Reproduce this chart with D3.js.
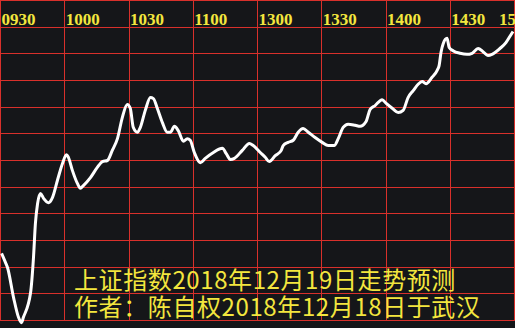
<!DOCTYPE html>
<html>
<head>
<meta charset="utf-8">
<script src="https://cdn.jsdelivr.net/npm/d3@7"></script>
<style>
  html, body { margin: 0; padding: 0; background: #151619; }
  svg { display: block; }
</style>
</head>
<body>
<script>
"use strict";

// Size of the picture
let w = 515;
let h = 328;

// time axis labels, minutes from 09:30 (lunch break removed)
let tickMinutes = [0, 30, 60, 90, 120, 150, 180, 210, 240];
let tickLabels = ["0930", "1000", "1030", "1100", "1300", "1330", "1400", "1430", "1500"];

// forecast curve
let minutes = [0.5, 2.3, 3.3, 6.1, 8.4, 9.8, 10.7, 14.0, 15.4, 16.3, 17.3, 18.7, 20.1, 22.4, 24.3,
    26.6, 28.9, 30.8, 31.7, 33.6, 35.9, 37.3, 38.7, 42.0, 45.2, 47.6, 49.9, 52.2, 54.6, 56.9,
    59.2, 60.6, 62.0, 63.9, 65.3, 67.6, 70.0, 71.4, 73.2, 75.6, 77.9, 79.3, 81.2, 83.0, 85.4,
    87.2, 88.6, 90.5, 93.3, 95.6, 99.4, 103.6, 105.4, 107.3, 109.2, 112.9, 116.2, 118.0, 121.3,
    123.6, 125.5, 128.3, 131.1, 132.0, 134.3, 136.7, 139.0, 141.3, 143.7, 146.9, 150.2, 153.0,
    155.8, 157.7, 160.0, 162.3, 165.6, 167.9, 170.7, 172.6, 174.9, 178.2, 180.1, 182.9, 185.7,
    188.0, 190.3, 192.7, 195.0, 196.9, 198.7, 201.5, 203.9, 204.8, 205.7, 206.7, 208.5, 209.5,
    211.3, 214.6, 217.8, 220.2, 223.0, 225.3, 227.6, 229.5, 233.2, 236.0, 237.9, 239.3];
let values = [2552.6, 2550.9, 2549.9, 2544.3, 2540.6, 2539.6, 2540.6, 2545.1, 2551.8, 2558.2,
    2561.9, 2563.8, 2562.9, 2562.1, 2563.1, 2566.3, 2569.4, 2571.1, 2570.6, 2568.1, 2565.7,
    2564.8, 2565.3, 2566.8, 2568.7, 2569.8, 2570.0, 2571.9, 2574.1, 2578.1, 2580.5, 2579.8,
    2576.2, 2575.3, 2576.2, 2579.4, 2581.8, 2581.6, 2579.8, 2577.1, 2575.3, 2575.3, 2576.4,
    2575.6, 2573.6, 2574.1, 2573.8, 2571.5, 2569.6, 2570.4, 2571.5, 2572.3, 2571.3, 2570.2,
    2570.4, 2571.9, 2573.2, 2572.8, 2571.5, 2570.6, 2569.8, 2570.9, 2571.9, 2572.8, 2573.4,
    2573.8, 2575.3, 2576.0, 2575.3, 2574.3, 2573.4, 2572.8, 2572.8, 2574.1, 2576.2, 2576.8,
    2576.6, 2576.4, 2577.3, 2579.6, 2580.3, 2581.4, 2580.7, 2579.8, 2579.0, 2579.4, 2581.8,
    2583.1, 2584.3, 2584.8, 2584.4, 2585.6, 2586.9, 2587.8, 2590.3, 2591.9, 2592.9, 2591.2,
    2590.6, 2590.1, 2589.9, 2590.1, 2591.0, 2590.4, 2589.7, 2589.9, 2591.0, 2592.1, 2593.3,
    2594.2];

// price grid, one line every 5 points
let gridValues = d3.range(2540, 2601, 5);

let titleLines = ["上证指数2018年12月19日走势预测", "作者：陈自权2018年12月18日于武汉"];

let x = d3.scaleLinear().domain([0, 240]).range([0.5, 514.5]);
let y = d3.scaleLinear().domain([2540, 2600]).range([320.5, 0.5]);

let svg = d3.select("body")
    .append("svg")
    .attr("width", w)
    .attr("height", h);

svg.append("rect")
    .attr("width", w)
    .attr("height", h)
    .attr("fill", "#151619");

let grid = svg.append("g")
    .attr("stroke", "#d8302b")
    .attr("stroke-width", 1);

grid.selectAll("line.h")
    .data(gridValues)
    .enter().append("line")
    .attr("class", "h")
    .attr("x1", 0)
    .attr("x2", w)
    .attr("y1", d => Math.round(y(d) - 0.5) + 0.5)
    .attr("y2", d => Math.round(y(d) - 0.5) + 0.5);

grid.selectAll("line.v")
    .data(tickMinutes)
    .enter().append("line")
    .attr("class", "v")
    .attr("x1", d => Math.round(x(d) - 0.5) + 0.5)
    .attr("x2", d => Math.round(x(d) - 0.5) + 0.5)
    .attr("y1", 0)
    .attr("y2", y(2540));

// time labels along the top; the last one is pulled in and runs off the edge
svg.append("g")
    .selectAll("text")
    .data(tickMinutes)
    .enter().append("text")
    .attr("x", d => Math.min(x(d) + 1, w - 16))
    .attr("y", 25)
    .attr("fill", "#f3e63e")
    .attr("font-family", "'Liberation Serif', serif")
    .attr("font-weight", "bold")
    .attr("font-size", 17)
    .text((d, i) => tickLabels[i]);

let points = minutes.map((m, i) => [m, values[i]]);

svg.append("path")
    .datum(points)
    .attr("fill", "none")
    .attr("stroke", "#ffffff")
    .attr("stroke-width", 3)
    .attr("stroke-linejoin", "round")
    .attr("d", d3.line()
        .x(d => x(d[0]))
        .y(d => y(d[1]))
        .curve(d3.curveMonotoneX));

svg.append("g")
    .selectAll("text")
    .data(titleLines)
    .enter().append("text")
    .attr("x", 74)
    .attr("y", (d, i) => 289 + i * 27)
    .attr("fill", "#f3e63e")
    .attr("font-family", "'Noto Sans CJK SC', sans-serif")
    .attr("font-size", 24)
    .attr("letter-spacing", 0.6)
    .text(d => d);
</script>
</body>
</html>
